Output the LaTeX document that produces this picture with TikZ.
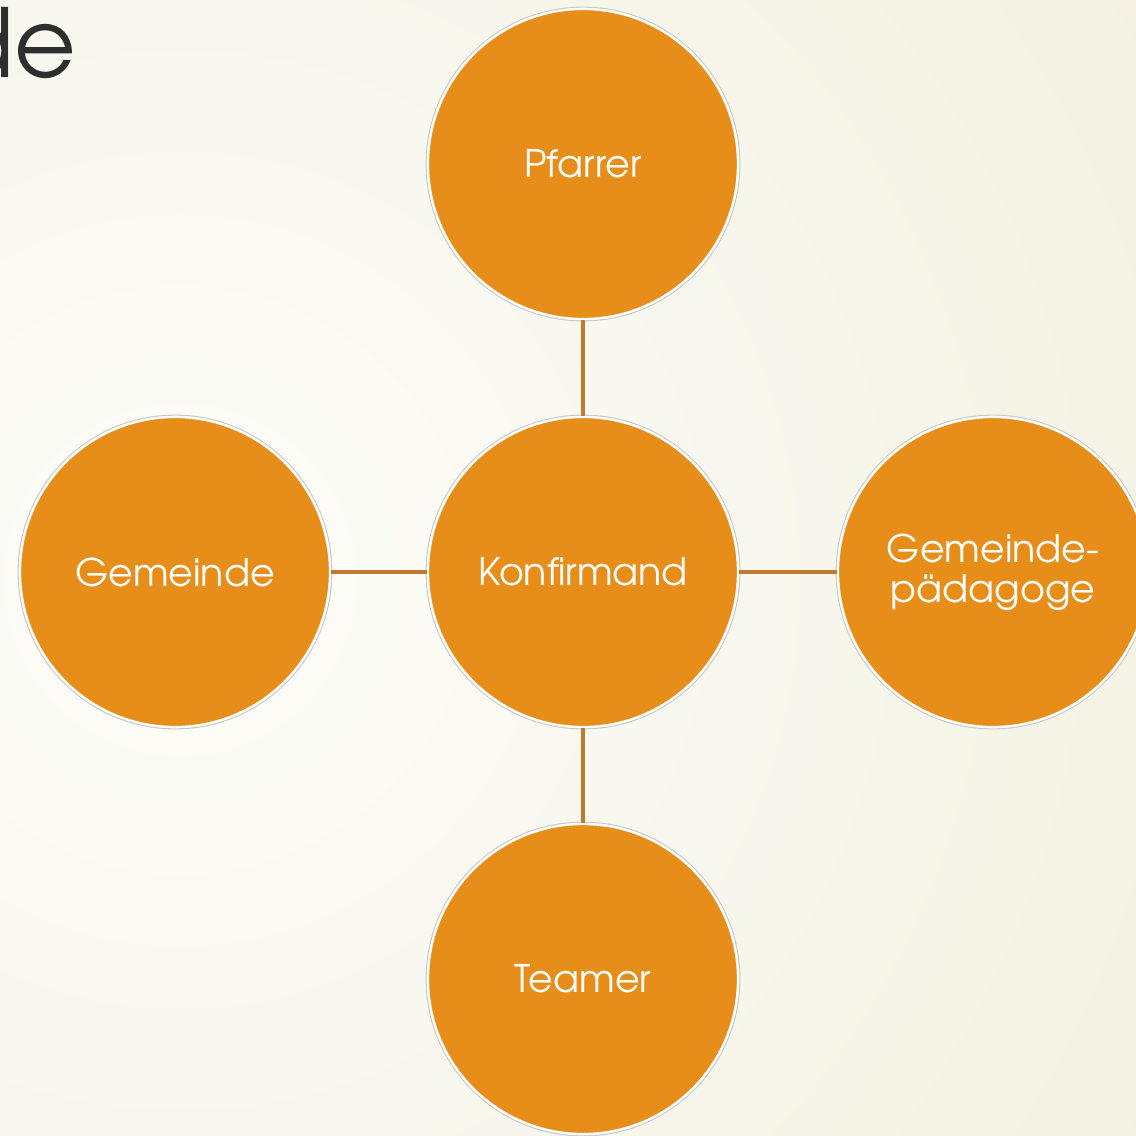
\documentclass[tikz,border=0pt]{standalone}
\usepackage{fontspec}
\setmainfont{texgyreadventor}[Extension=.otf, UprightFont=*-regular, BoldFont=*-bold, ItalicFont=*-italic, BoldItalicFont=*-bolditalic]
\definecolor{bgin}{HTML}{FDFDF9}
\definecolor{bgout}{HTML}{ECE8D0}
\definecolor{bubfill}{HTML}{E78E1A}
\definecolor{conncol}{HTML}{BF7A2E}
\definecolor{titlegray}{HTML}{2E2E2E}
\tikzset{
  bub/.style={circle, minimum size=3.1cm, inner sep=0pt, fill=bubfill, draw=white,
    line width=0.7pt, preaction={draw=black!22, line width=1.3pt},
    text=white, font=\fontsize{10.8}{11.4}\selectfont, align=center},
  conn/.style={draw=conncol, line width=1.1pt}
}
\begin{document}
\begin{tikzpicture}[x=0.01cm, y=-0.01cm]
\useasboundingbox (0,0) rectangle (1136,1136);
\begin{scope}
  \clip (0,0) rectangle (1136,1136);
  \shade[inner color=bgin, outer color=bgout] (180,580) circle (20cm);
\end{scope}
\node[anchor=base east, inner sep=0pt, text=titlegray, font=\fontsize{27}{30}\selectfont] (title) at (77,77) {de};
\node[bub] (k) at (583,572) {Konfirmand};
\node[bub] (p) at (583,164) {Pfarrer};
\node[bub] (t) at (583,979) {Teamer};
\node[bub] (g) at (175,572) {Gemeinde};
\node[bub] (gp) at (993,572) {Gemeinde-\\p\"adagoge};
\draw[conn] (k) -- (p);
\draw[conn] (k) -- (t);
\draw[conn] (k) -- (g);
\draw[conn] (k) -- (gp);
\end{tikzpicture}
\end{document}
